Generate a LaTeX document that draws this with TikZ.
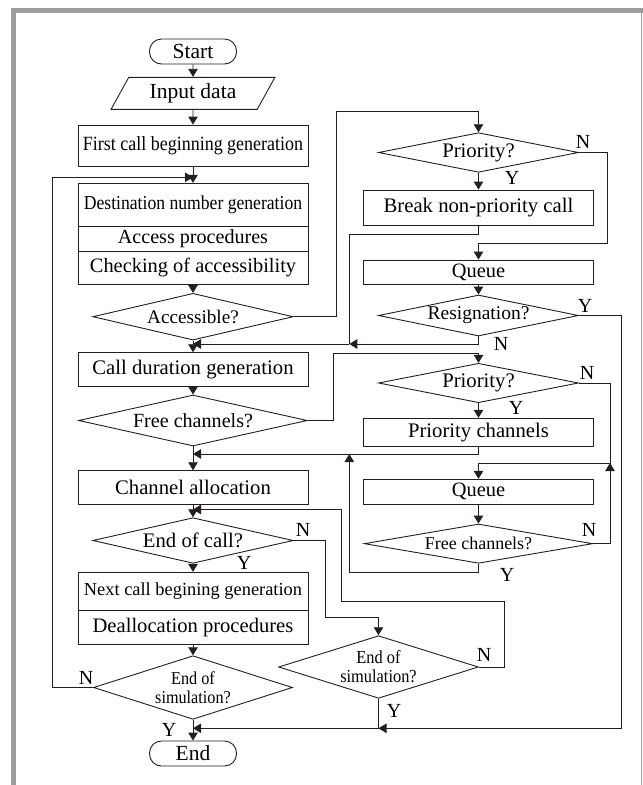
\documentclass[tikz,border=0pt]{standalone}
\usepackage{fontspec}
\setmainfont{Liberation Serif}
\newfontfamily\condfont{Liberation Serif}[FakeStretch=0.89]
\usetikzlibrary{shapes.geometric,arrows.meta}

\newcommand\fsz[1]{\fontsize{#1}{19pt}\selectfont}
\newcommand\cfsz[1]{\condfont\fontsize{#1}{19pt}\selectfont}
\definecolor{ink}{HTML}{231F20}
\definecolor{framegray}{HTML}{9D9D9D}

\tikzset{
  line/.style={draw=ink, line width=0.9pt},
  flow/.style={line, -{Triangle[length=8pt,width=9.5pt]}},
  box/.style={draw=ink, line width=0.9pt, rectangle, inner sep=0pt,
              minimum width=230pt, font=\fsz{20.7pt}},
  rbox/.style={box, minimum width=229.3pt},
  dec/.style={draw=ink, line width=0.9pt, diamond, inner sep=0pt,
              font=\fsz{20.7pt}},
  term/.style={draw=ink, line width=0.9pt, rectangle, rounded corners=12pt,
               minimum width=87pt, minimum height=25pt, inner sep=0pt,
               font=\fsz{21.5pt}},
  io/.style={draw=ink, line width=0.9pt, trapezium, trapezium left angle=58.5,
             trapezium right angle=121.5, trapezium stretches=true,
             minimum width=164pt, minimum height=32pt, inner sep=0pt,
             font=\fsz{21.5pt}},
  lbl/.style={inner sep=0pt, font=\fsz{20pt}}
}

\begin{document}
\begin{tikzpicture}[x=1pt,y=-1pt]
\useasboundingbox (0,0) rectangle (643,785);

% page frame
\fill[framegray] (11,8) rectangle (643,13);
\fill[framegray] (11,8) rectangle (16,785);
\draw[framegray, line width=1.5pt] (641.5,8) -- (641.5,785);

% ---- left column ----
\node[term] (start) at (193,51.5) {Start};
\node[io] (input) at (193,93.3) {Input data};
\node[box, minimum height=41pt, font=\cfsz{20.2pt}] (first) at (193,145.5) {First call beginning generation};
\node[box, minimum height=42.7pt, font=\cfsz{19.8pt}] (dest) at (193,204.65) {Destination number generation};
\node[box, minimum height=25pt, font=\fsz{20.1pt}] (access) at (193,238.5) {Access procedures};
\node[box, minimum height=33.5pt, font=\fsz{20.4pt}] (check) at (193,267.75) {Checking of accessibility};
\node[dec, minimum width=200.4pt, minimum height=46.7pt, shape aspect=4.29, font=\fsz{19.2pt}] (acc) at (193,316.7) {Accessible?};
\node[box, minimum height=34pt] (dur) at (193,369.7) {Call duration generation};
\node[dec, minimum width=228.7pt, minimum height=51pt, shape aspect=4.48, font=\fsz{20.1pt}] (free1) at (193,420.5) {Free channels?};
\node[box, minimum height=33.3pt] (alloc) at (193,487.35) {Channel allocation};
\node[dec, minimum width=200.4pt, minimum height=45.6pt, shape aspect=4.39] (endcall) at (193,540.5) {End of call?};
\node[box, minimum height=38.4pt, font=\fsz{18.4pt}] (next) at (193,591.5) {Next call begining generation};
\node[box, minimum height=33.6pt, font=\fsz{20.6pt}] (dealloc) at (193,627.5) {Deallocation procedures};
\node[dec, minimum width=199pt, minimum height=63.6pt, shape aspect=3.13, align=center, font=\cfsz{18.2pt}] (eos1) at (193,687.5) {End of\\simulation?};
\node[term] (end) at (193,753.5) {End};

% ---- right column ----
\node[dec, minimum width=200pt, minimum height=39.6pt, shape aspect=5.05] (pri1) at (478.5,152.5) {Priority?};
\node[rbox, minimum height=35.7pt] (brk) at (478.5,207.85) {Break non-priority call};
\node[rbox, minimum height=24pt, font=\fsz{20.4pt}] (q1) at (478.5,272) {Queue};
\node[dec, minimum width=200pt, minimum height=41pt, shape aspect=4.88, font=\fsz{19.5pt}] (res) at (478.5,315.5) {Resignation?};
\node[dec, minimum width=200pt, minimum height=39.4pt, shape aspect=5.08] (pri2) at (478.5,383) {Priority?};
\node[rbox, minimum height=27.7pt] (prich) at (478.5,432.15) {Priority channels};
\node[rbox, minimum height=24.7pt, font=\fsz{20.4pt}] (q2) at (478.5,491.65) {Queue};
\node[dec, minimum width=228.4pt, minimum height=39.3pt, shape aspect=5.81, font=\fsz{18pt}] (free2) at (478.5,543.65) {Free channels?};
\node[dec, minimum width=199.8pt, minimum height=62.6pt, shape aspect=3.19, align=center, font=\cfsz{18.4pt}] (eos2) at (378.5,667) {End of\\simulation?};

% ---- branch labels ----
\node[lbl] (p1n) at (583,142) {N};
\node[lbl] (p1y) at (512,178) {Y};
\node[lbl] (rsy) at (585,306) {Y};
\node[lbl] (rsn) at (501,344) {N};
\node[lbl] (p2n) at (587,373) {N};
\node[lbl] (p2y) at (516,408) {Y};
\node[lbl] (f2n) at (589,530) {N};
\node[lbl] (f2y) at (507,575) {Y};
\node[lbl] (ecn) at (303,530) {N};
\node[lbl] (ecy) at (244,563) {Y};
\node[lbl] (e1n) at (86,678) {N};
\node[lbl] (e1y) at (169,729.5) {Y};
\node[lbl] (e2n) at (484,655) {N};
\node[lbl] (e2y) at (394,711) {Y};

% ---- junctions and bends ----
\coordinate (jA) at (193,177.3);
\coordinate (jB) at (193,344);
\coordinate (jB2) at (349.3,344);
\coordinate (jC) at (193,454);
\coordinate (jC2) at (349.3,454);
\coordinate (jD) at (193,509.5);
\coordinate (jE) at (193,728.3);
\coordinate (jE2) at (378.5,728.3);
\coordinate (jG2) at (610,463);
\coordinate (bA) at (336,111);
\coordinate (bB) at (607,243.3);
\coordinate (bC) at (349.3,234.3);
\coordinate (bD) at (621,728.3);
\coordinate (bE) at (333,353.3);
\coordinate (bF) at (349.3,572);
\coordinate (bG) at (325.7,617.3);
\coordinate (bH) at (52.7,177.3);
\coordinate (bI) at (504.5,601);
\coordinate (bJ) at (341.5,509.5);

% ---- main flow ----
\draw[flow] (start) -- (input);
\draw[flow] (input) -- (first);
\draw[flow] (first) -- (dest);
\draw[flow] (check) -- (acc);
\draw[flow] (acc) -- (dur);
\draw[flow] (dur) -- (free1);
\draw[flow] (free1) -- (alloc);
\draw[flow] (alloc) -- (endcall);
\draw[flow] (endcall) -- (next);
\draw[flow] (dealloc) -- (eos1);
\draw[flow] (eos1) -- (end);

% not accessible: priority handling
\draw[flow] (acc.east) -| (bA) -| (pri1.north);
\draw[flow] (pri1) -- (brk);
\draw[flow] (pri1.east) -| (bB) -| (q1.north);
\draw[line] (brk.south) |- (bC) -- (jB2);
\draw[flow] (q1) -- (res);
\draw[flow] (res.south) |- (jB2);
\draw[flow] (jB2) -- (jB);
\draw[flow] (res.east) -| (bD) -- (jE2);
\draw[flow] (jE2) -- (jE);

% no free channels
\draw[flow] (free1.east) -| (bE) -| (pri2.north);
\draw[flow] (pri2) -- (prich);
\draw[flow] (prich.south) |- (jC);
\draw[flow] (pri2.east) -| (jG2) -| (q2.north);
\draw[flow] (q2) -- (free2);
\draw[flow] (free2.east) -| (jG2);
\draw[flow] (free2.south) |- (bF) -- (jC2);

% end of call and end of simulation loops
\draw[flow] (endcall.east) -| (bG) -| (eos2.north);
\draw[line] (eos2.south) -- (jE2);
\draw[flow] (eos2.east) -| (bI) -| (bJ) -- (jD);
\draw[flow] (eos1.west) -| (bH) -- (jA);
\end{tikzpicture}
\end{document}
